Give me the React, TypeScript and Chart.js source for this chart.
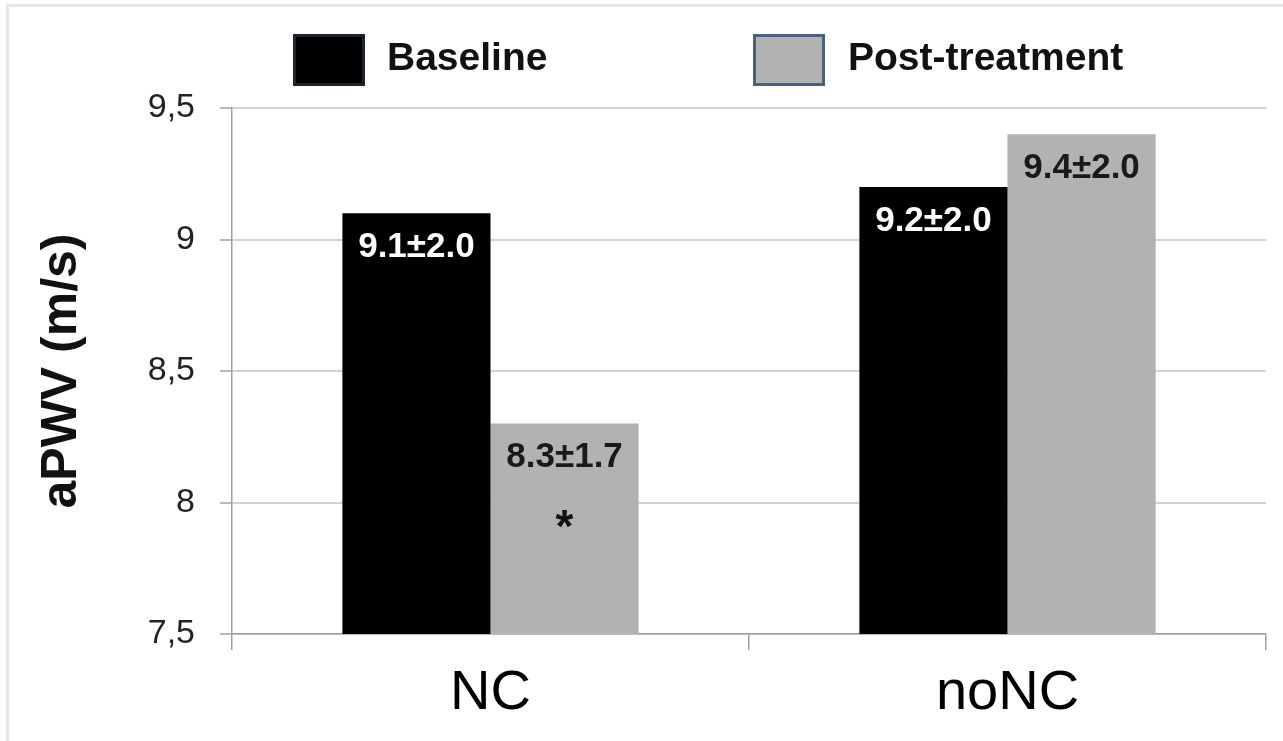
import React, { useEffect, useRef } from "react";
import { Chart, registerables } from "chart.js";

Chart.register(...registerables);

const categories = ["NC", "noNC"];
const seriesNames = ["Baseline", "Post-treatment"];
const baselineValues = [9.1, 9.2];
const postValues = [8.3, 9.4];
const baselineLabels = ["9.1±2.0", "9.2±2.0"];
const postLabels = ["8.3±1.7", "9.4±2.0"];
const significance = ["*", ""];
const yMin = 7.5;
const yMax = 9.5;
const yStep = 0.5;

const FONT = "'Liberation Sans', Arial, sans-serif";
const BLACK = "#000000";
const GRAY = "#b2b2b2";

const valueLabelPlugin = {
  id: "valueLabels",
  afterDatasetsDraw(chart: any) {
    const ctx = chart.ctx;
    ctx.save();
    ctx.textAlign = "center";
    ctx.textBaseline = "middle";
    const labelSets = [baselineLabels, postLabels];
    const colors = ["#ffffff", "#1a1a1a"];
    chart.data.datasets.forEach((_ds: any, di: number) => {
      const meta = chart.getDatasetMeta(di);
      meta.data.forEach((bar: any, i: number) => {
        ctx.font = `bold 35px ${FONT}`;
        ctx.fillStyle = colors[di];
        ctx.fillText(labelSets[di][i], bar.x, bar.y + 34);
        if (di === 1 && significance[i]) {
          ctx.font = `bold 46px ${FONT}`;
          ctx.fillStyle = "#111111";
          ctx.fillText(significance[i], bar.x, bar.y + 106);
        }
      });
    });
    ctx.restore();
  },
};

const customLegendPlugin = {
  id: "customLegend",
  afterDraw(chart: any) {
    const ctx = chart.ctx;
    ctx.save();
    const items = [
      { x: 293, fill: BLACK, stroke: "#1c2430", text: seriesNames[0], tx: 387 },
      { x: 753, fill: GRAY, stroke: "#4a6082", text: seriesNames[1], tx: 848 },
    ];
    items.forEach((it) => {
      ctx.fillStyle = it.fill;
      ctx.fillRect(it.x, 34, 72, 52);
      ctx.lineWidth = 3;
      ctx.strokeStyle = it.stroke;
      ctx.strokeRect(it.x + 1.5, 35.5, 69, 49);
      ctx.font = `bold 39px ${FONT}`;
      ctx.fillStyle = "#111111";
      ctx.textAlign = "left";
      ctx.textBaseline = "middle";
      ctx.fillText(it.text, it.tx, 59);
    });
    ctx.restore();
  },
};

export default function App() {
  const canvasRef = useRef<HTMLCanvasElement | null>(null);

  useEffect(() => {
    if (!canvasRef.current) return;
    const chart = new Chart(canvasRef.current, {
      type: "bar",
      data: {
        labels: categories,
        datasets: [
          {
            label: seriesNames[0],
            data: baselineValues,
            backgroundColor: BLACK,
            borderWidth: 0,
            categoryPercentage: 0.573,
            barPercentage: 1.0,
          },
          {
            label: seriesNames[1],
            data: postValues,
            backgroundColor: GRAY,
            borderWidth: 0,
            categoryPercentage: 0.573,
            barPercentage: 1.0,
          },
        ],
      },
      options: {
        animation: false,
        responsive: true,
        maintainAspectRatio: false,
        layout: { padding: { top: 108, right: 17, left: 0, bottom: 0 } },
        plugins: {
          legend: { display: false },
          tooltip: { enabled: false },
          title: { display: false },
        },
        scales: {
          x: {
            afterFit: (scale: any) => {
              scale.height = 107;
            },
            grid: {
              offset: true,
              drawOnChartArea: false,
              drawTicks: true,
              tickLength: 16,
              color: "#a0a0a0",
              lineWidth: 1.5,
            },
            border: { display: true, color: "#a0a0a0", width: 1.5 },
            ticks: {
              color: "#000000",
              padding: 10,
              font: { family: FONT, size: 56 },
            },
          },
          y: {
            min: yMin,
            max: yMax,
            afterFit: (scale: any) => {
              scale.width = 232;
            },
            border: { display: true, color: "#a0a0a0", width: 1.5 },
            grid: {
              color: "#d2d2d2",
              lineWidth: 2,
              drawTicks: true,
              tickLength: 12,
              tickColor: "#a0a0a0",
              tickWidth: 1.5,
            },
            ticks: {
              stepSize: yStep,
              padding: 25,
              color: "#222222",
              font: { family: FONT, size: 34 },
              callback: (v: any) => String(v).replace(".", ","),
            },
            title: {
              display: true,
              text: "aPWV (m/s)",
              color: "#111111",
              font: { family: FONT, size: 50, weight: "bold", lineHeight: 1 },
              padding: { top: 37, bottom: 0 },
            },
          },
        },
      },
      plugins: [valueLabelPlugin, customLegendPlugin],
    });
    return () => chart.destroy();
  }, []);

  return (
    <div
      style={{
        position: "absolute",
        left: 0,
        top: 0,
        width: 1283,
        height: 741,
        background: "#ffffff",
      }}
    >
      <div
        style={{
          position: "absolute",
          left: 6,
          top: 4,
          right: 0,
          bottom: 0,
          borderLeft: "3px solid #e4e8e8",
          borderTop: "3px solid #e4e8e8",
        }}
      />
      <canvas
        ref={canvasRef}
        style={{ position: "absolute", left: 0, top: 0, width: 1283, height: 741, display: "block" }}
      />
    </div>
  );
}
